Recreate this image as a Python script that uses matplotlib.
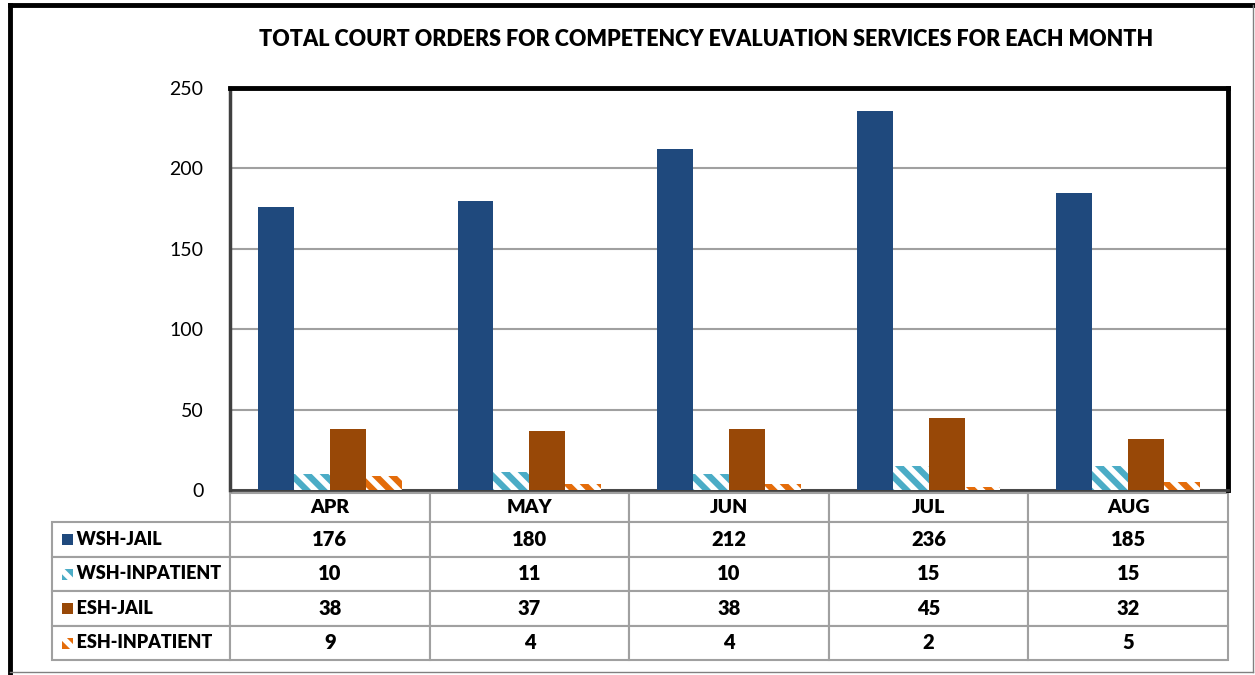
import numpy as np
import matplotlib
matplotlib.use('Agg')
import matplotlib.pyplot as plt
from matplotlib.patches import Rectangle
from matplotlib.lines import Line2D
from matplotlib.table import Table

months = ['APR', 'MAY', 'JUN', 'JUL', 'AUG']
series = ['WSH-JAIL', 'WSH-INPATIENT', 'ESH-JAIL', 'ESH-INPATIENT']
wsh_jail = [176, 180, 212, 236, 185]
wsh_inpatient = [10, 11, 10, 15, 15]
esh_jail = [38, 37, 38, 45, 32]
esh_inpatient = [9, 4, 4, 2, 5]
yticks = [0, 50, 100, 150, 200, 250]

values = [wsh_jail, wsh_inpatient, esh_jail, esh_inpatient]
colors = ['#1F497D', '#4BACC6', '#984807', '#E46C0A']
hatched = [False, True, False, True]

plt.rcParams['font.family'] = ['Lato', 'DejaVu Sans']
plt.rcParams['hatch.linewidth'] = 4.5

W, H = 1255, 675
fig = plt.figure(figsize=(W / 100, H / 100), dpi=100)
ax = fig.add_axes([230 / W, 1 - 490 / H, 998 / W, 402 / H])

x = np.arange(len(months))
bw = 0.18
for k, (vals, col, hat) in enumerate(zip(values, colors, hatched)):
    pos = x + (k - 1.5) * bw
    if hat:
        ax.bar(pos, vals, bw, facecolor='white', edgecolor=col, hatch='\\\\', linewidth=0, zorder=3)
    else:
        ax.bar(pos, vals, bw, color=col, zorder=3)

ax.set_xlim(-0.5, len(months) - 0.5)
ax.set_ylim(0, 250)
ax.set_yticks(yticks)
ax.set_yticklabels([str(t) for t in yticks], fontsize=14)
ax.tick_params(axis='y', length=0, pad=19)
ax.set_xticks([])
ax.grid(axis='y', color='#A0A0A0', linewidth=1.5, zorder=0)
ax.spines['top'].set_linewidth(3.5)
ax.spines['right'].set_linewidth(3.5)
ax.spines['top'].set_color('black')
ax.spines['right'].set_color('black')
ax.spines['left'].set_linewidth(2.5)
ax.spines['left'].set_color('#404040')
ax.spines['bottom'].set_linewidth(2)
ax.spines['bottom'].set_color('#404040')

# data table under the plot
tl = (52 - 230) / 998
hdr_h = 29 / 402
row_h = 34.5 / 402
lab_w = (230 - 52) / 998
col_w = 1.0 / len(months)
top = -3 / 402

tab = Table(ax)
for j, m in enumerate(months):
    c = tab.add_cell(0, j, width=col_w, height=hdr_h, text=m, loc='center', edgecolor='#A0A0A0')
    c.get_text().set_fontweight('heavy')
    c.get_text().set_fontsize(14)
c = tab.add_cell(0, -1, width=lab_w, height=hdr_h, text='', edgecolor='white')
c.set_linewidth(0)
for i, (name, vals) in enumerate(zip(series, values)):
    c = tab.add_cell(i + 1, -1, width=lab_w, height=row_h, text='     ' + name, loc='left', edgecolor='#A0A0A0')
    c.get_text().set_fontweight('heavy')
    c.get_text().set_fontsize(13)
    for j, v in enumerate(vals):
        c = tab.add_cell(i + 1, j, width=col_w, height=row_h, text=str(v), loc='center', edgecolor='#A0A0A0')
        c.get_text().set_fontweight('heavy')
        c.get_text().set_fontsize(14.5)
tab.auto_set_font_size(False)
for c in tab.get_celld().values():
    c.set_linewidth(1.5)
    c.PAD = 0.02
tab.set_clip_on(False)
ax.add_table(tab)

# position cells explicitly
for (r, cidx), cell in tab.get_celld().items():
    if cidx == -1:
        cell.set_x(tl)
    else:
        cell.set_x(cidx * col_w)
    if r == 0:
        cell.set_y(top - hdr_h)
    else:
        cell.set_y(top - hdr_h - r * row_h)
tab._update_positions = lambda renderer: None

# legend keys in row label cells
ppx = 1 / 998
ppy = 1 / 402
for i, (col, hat) in enumerate(zip(colors, hatched)):
    yc = top - hdr_h - (i + 0.5) * row_h
    if hat:
        p = Rectangle((tl + 10 * ppx, yc - 6 * ppy), 11 * ppx, 11 * ppy, facecolor='white',
                      edgecolor=col, hatch='\\\\', linewidth=0, transform=ax.transAxes, clip_on=False)
    else:
        p = Rectangle((tl + 10 * ppx, yc - 6 * ppy), 11 * ppx, 11 * ppy, facecolor=col,
                      linewidth=0, transform=ax.transAxes, clip_on=False)
    ax.add_patch(p)

fig.text(706 / W, 1 - 40 / H, 'TOTAL COURT ORDERS FOR COMPETENCY EVALUATION SERVICES FOR EACH MONTH',
         ha='center', va='center', fontsize=15.5, fontweight='heavy')

# outer frame
fig.add_artist(Line2D([10 / W, 10 / W], [0, 1 - 5 / H], color='black', linewidth=3.5, transform=fig.transFigure))
fig.add_artist(Line2D([10 / W, 1253 / W], [1 - 5 / H, 1 - 5 / H], color='black', linewidth=3.5, transform=fig.transFigure))
fig.add_artist(Line2D([1253 / W, 1253 / W], [1 - 672 / H, 1 - 5 / H], color='#808080', linewidth=1, transform=fig.transFigure))
fig.add_artist(Line2D([10 / W, 1253 / W], [1 - 672 / H, 1 - 672 / H], color='#808080', linewidth=1, transform=fig.transFigure))

fig.savefig('out.png', dpi=100)
